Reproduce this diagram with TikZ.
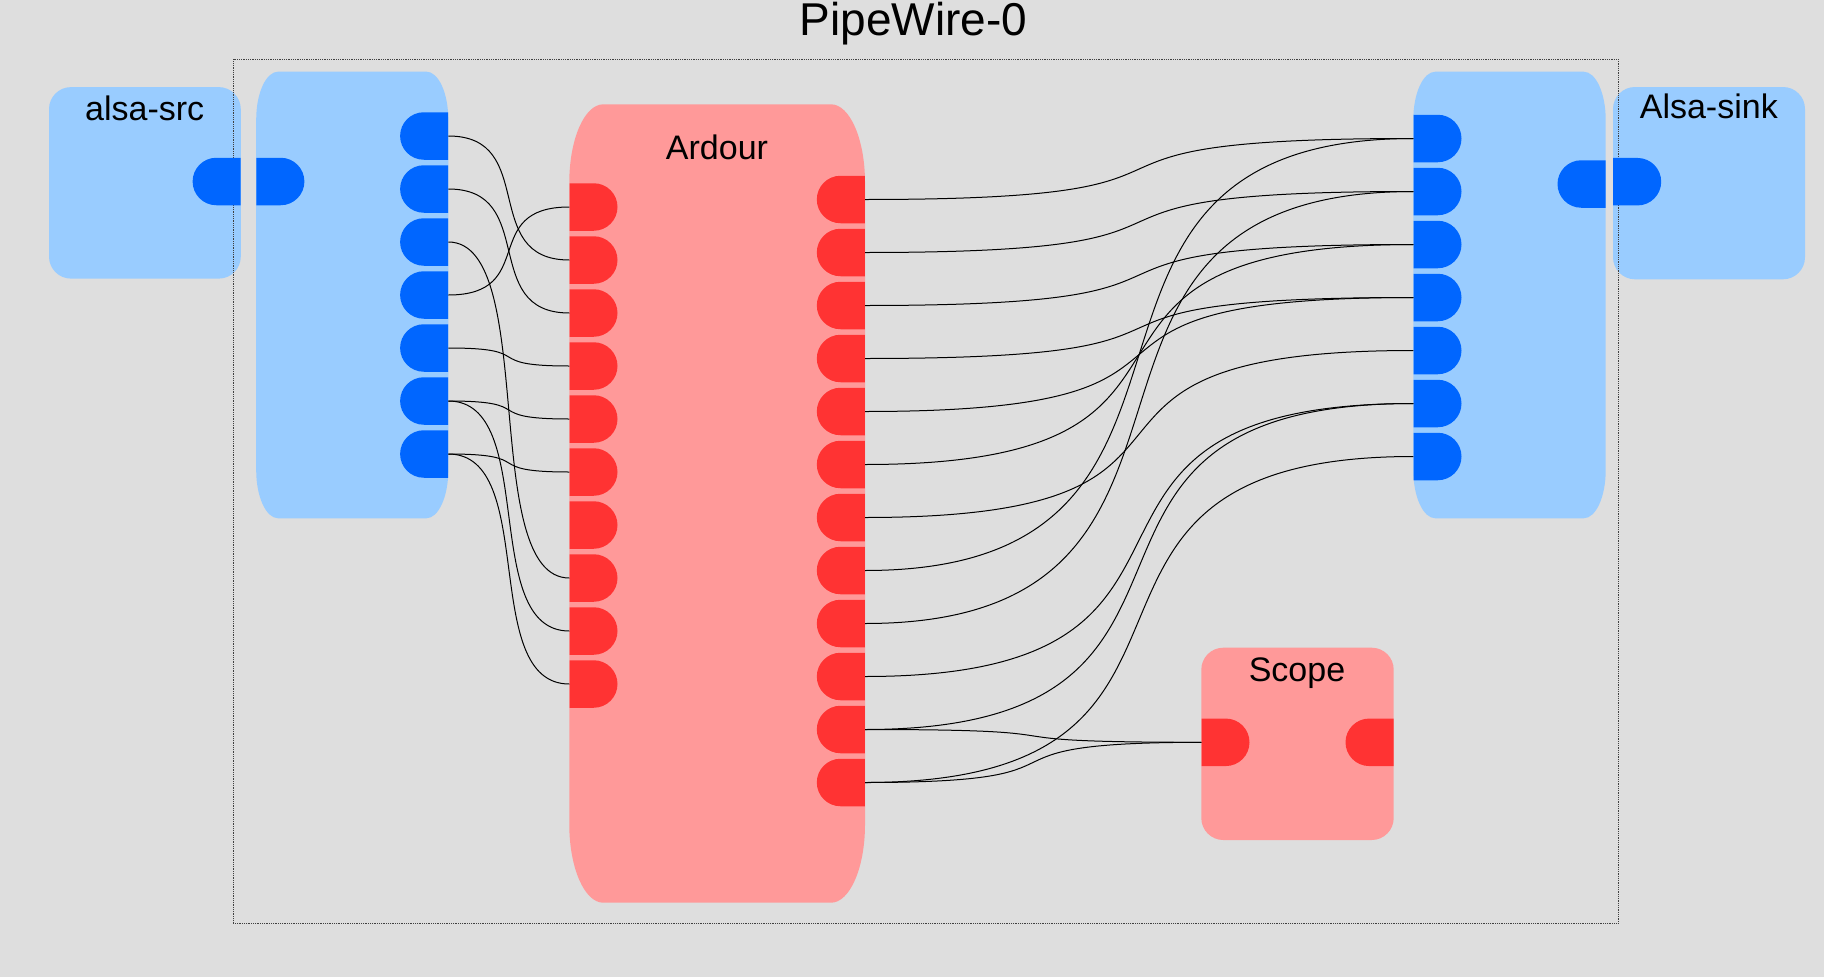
\documentclass[tikz,border=0pt]{standalone}
\usepackage{fontspec}
\setmainfont{Liberation Sans}
\usetikzlibrary{shapes.misc,calc}
\definecolor{bg}{HTML}{DEDEDE}
\definecolor{nblue}{HTML}{99CCFF}
\definecolor{pblue}{HTML}{0066FF}
\definecolor{nred}{HTML}{FF9999}
\definecolor{pred}{HTML}{FF3333}
% elliptical-cornered body: name, x1, y1, x2, y2, rx, ry, colour
\newcommand\pwbox[8]{%
 \fill[#8] ({#2+#6},#3) -- ({#4-#6},#3)
   .. controls ({#4-#6+0.5523*#6},#3) and (#4,{#3+#7-0.5523*#7}) .. (#4,{#3+#7})
   -- (#4,{#5-#7})
   .. controls (#4,{#5-#7+0.5523*#7}) and ({#4-#6+0.5523*#6},#5) .. ({#4-#6},#5)
   -- ({#2+#6},#5)
   .. controls ({#2+#6-0.5523*#6},#5) and (#2,{#5-#7+0.5523*#7}) .. (#2,{#5-#7})
   -- (#2,{#3+#7})
   .. controls (#2,{#3+#7-0.5523*#7}) and ({#2+#6-0.5523*#6},#3) .. cycle;
 \coordinate (#1) at ({(#2+#4)/2},{(#3+#5)/2});}
\tikzset{
 portbase/.style={rounded rectangle, minimum width=48pt, minimum height=47.5pt, inner sep=0pt, draw=none},
 pin/.style={portbase, rounded rectangle left arc=none, anchor=west},
 pout/.style={portbase, rounded rectangle right arc=none, anchor=east},
 sqbox/.style={rectangle, rounded corners=22pt, inner sep=0pt, draw=none},
 lbl/.style={anchor=base, inner sep=0pt, font=\fontsize{34}{40}\selectfont},
 cable/.style={draw=black, line width=1pt},
 cab/.style={to path={let \p1=(\tikztostart), \p2=(\tikztotarget), \n1={0.75*(\x2-\x1)} in
   .. controls +(\n1,0) and +(-\n1,0) .. (\tikztotarget)}},
 frame/.style={draw=black!75, densely dotted, line width=0.8pt}
}
\begin{document}
\begin{tikzpicture}[x=1pt, y=-1pt]
\fill[bg] (0,0) rectangle (1824,977);
\useasboundingbox (0,0) rectangle (1824,977);
% bodies
\node[sqbox, fill=nblue, minimum width=191.8pt, minimum height=191.5pt] (src) at (144.9,182.85) {};
\node[sqbox, fill=nblue, minimum width=192pt, minimum height=192.3pt] (sink) at (1709,183.15) {};
\node[sqbox, fill=nred, minimum width=192.4pt, minimum height=192.3pt] (scope) at (1297.5,743.85) {};
\pwbox{LA}{256.2}{71.6}{448.3}{518.3}{22}{48}{nblue}
\pwbox{RA}{1413.3}{71.7}{1605.7}{518.3}{22}{48}{nblue}
\pwbox{ardour}{569.3}{104.3}{865}{902.7}{34}{78}{nred}
% frame
\draw[frame] (233.3,59.3) rectangle (1618,923.3);
% ports
\node[pout, fill=pblue] (srcout) at (240.8,181.5) {};
\node[pin, fill=pblue] (lain) at (256.2,181.5) {};
\foreach \i in {1,...,7} \node[pout, fill=pblue] (L\i) at (448.3,{136+53*(\i-1)}) {};
\foreach \i in {1,...,10} \node[pin, fill=pred] (A\i) at (569.3,{207+53*(\i-1)}) {};
\foreach \i in {1,...,12} \node[pout, fill=pred] (O\i) at (865,{199.5+53*(\i-1)}) {};
\foreach \i in {1,...,7} \node[pin, fill=pblue] (R\i) at (1413.3,{138.5+53*(\i-1)}) {};
\node[pout, fill=pblue] (raout) at (1605.7,184) {};
\node[pin, fill=pblue] (sinkin) at (1613,181.7) {};
\node[pin, fill=pred] (scin) at (1201.3,742.3) {};
\node[pout, fill=pred] (scout) at (1393.7,742.3) {};
% cables
\foreach \a/\b in {L1/A2, L2/A3, L3/A8, L4/A1, L5/A4, L6/A5, L6/A9, L7/A6, L7/A10,
  O1/R1, O2/R2, O3/R3, O4/R4, O5/R4, O6/R3, O7/R5, O8/R1, O9/R2, O10/R6, O11/R6, O12/R7,
  O11/scin, O12/scin}
  \draw[cable] (\a.east) to[cab] (\b.west);
% labels
\node[anchor=base, inner sep=0pt, font=\fontsize{46}{52}\selectfont] (title) at (913.3,35.7) {PipeWire-0};
\node[lbl] (srcT) at (144.7,120.5) {alsa-src};
\node[lbl] (ardT) at (717,159.3) {Ardour};
\node[lbl] (sinkT) at (1708.8,118.7) {Alsa-sink};
\node[lbl] (scopeT) at (1297,681) {Scope};
\end{tikzpicture}
\end{document}
